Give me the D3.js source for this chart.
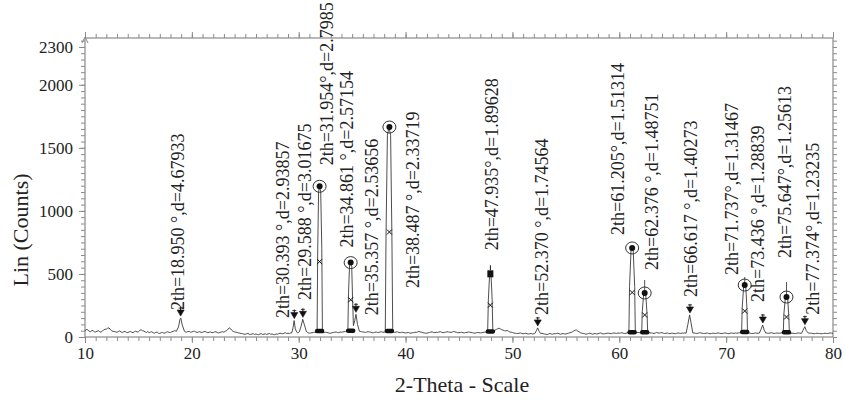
<!DOCTYPE html>
<html><head><meta charset="utf-8">
<script src="https://cdn.jsdelivr.net/npm/d3@7"></script>
<style>body{margin:0;background:#fff;}svg{display:block;}</style>
</head><body>
<script>
// ---- data ----
const xTicks = [10, 20, 30, 40, 50, 60, 70, 80];
const yTicks = [0, 500, 1000, 1500, 2000, 2300];
const bgStart = 10, bgStep = 0.25;
// background counts at 10.00, 10.25, ... 80.00
const bgCounts = [
 48,58,42,52, 40,50,38,55, 62,72,50,44, 38,48,35,45, 36,44,34,46,
 42,58,48,36, 34,42,30,40, 28,36,32,42, 36,44,48,60, 70,45,38,44,
 40,46,36,42, 38,44,34,40, 36,42,32,40, 38,50,72,52, 40,36,30,26,
 22,28,20,26, 24,18,26,22, 20,28,24,18, 22,30,26,34, 30,32,40,38,
 36,40,44,42, 30,34,38,40, 36,32,38,34, 30,36,40,34, 38,42,44,46,
 60,70,58,44, 40,36,42,38, 34,40,36,42, 38,40,42,44, 36,40,34,38,
 32,36,30,34, 36,44,38,32, 30,36,40,34, 36,42,34,38, 40,36,44,38,
 34,38,32,36, 38,34,30,36, 32,36,38,40, 40,48,60,70, 58,50,52,40,
 36,30,28,32, 26,30,24,28, 26,30,34,30, 24,20,28,22, 26,30,22,28,
 24,30,36,48, 55,40,30,26, 24,30,22,28, 26,32,24,28, 30,26,32,28,
 30,34,28,32, 34,36,38,36, 34,32,36,34, 32,28,36,30, 34,28,32,26,
 30,26,32,28, 30,34,36,34, 32,28,34,30, 28,32,26,30, 28,32,28,30,
 30,26,32,28, 30,34,36,38, 36,30,28,32, 30,32,34,32, 30,34,28,32,
 30,32,34,32, 26,30,28,32, 30,32,34,32, 30,26,30,28, 26,30,28,32,
 30];
// background counts at 10.125, 10.375, ... 79.875
const bgCountsMid = [
 60,46,50,40, 46,42,48,62, 70,58,44,40, 44,40,42,36, 40,38,42,40,
 52,50,40,44, 38,34,36,30, 34,30,38,36, 42,50,54,64, 52,40,44,38,
 44,40,40,36, 42,38,38,34, 40,36,36,42, 46,62,66,44, 38,32,28,22,
 26,22,24,20, 20,24,20,26, 24,22,20,24, 26,28,30,28, 28,36,42,34,
 38,42,40,34, 32,36,36,44, 34,36,36,30, 34,38,36,40, 40,44,42,50,
 66,64,50,42, 38,40,40,34, 38,36,40,38, 40,42,40,40, 40,36,38,34,
 34,32,34,38, 40,40,34,30, 34,40,36,38, 40,38,36,42, 38,40,40,34,
 36,34,36,40, 36,32,34,34, 34,38,40,44, 44,54,66,64, 54,48,46,38,
 32,28,30,28, 28,26,26,24, 28,32,32,26, 22,24,24,26, 28,26,26,24,
 28,34,42,54, 46,34,28,22, 28,26,26,24, 30,28,26,30, 28,30,30,32,
 32,30,30,34, 36,38,36,34, 32,34,34,32, 30,32,32,34, 30,30,28,30,
 28,30,30,32, 32,36,36,32, 30,30,32,28, 30,28,28,30, 30,30,28,32,
 28,30,30,32, 32,36,38,36, 32,28,30,30, 32,34,32,30, 32,30,30,30,
 32,34,32,28, 28,28,30,30, 32,34,32,30, 28,28,28,26, 28,28,30,30];
const peakTheta = [18.950, 29.588, 30.393, 31.954, 34.861, 35.357, 38.487, 47.935,
                   52.370, 61.205, 62.376, 66.617, 71.737, 73.436, 75.647, 77.374];
const peakLabels = [
 "2th=18.950 °,d=4.67933", "2th=29.588 °,d=3.01675", "2th=30.393 °,d=2.93857",
 "2th=31.954°,d=2.7985", "2th=34.861 °,d=2.57154", "2th=35.357 °,d=2.53656",
 "2th=38.487 °,d=2.33719", "2th=47.935°,d=1.89628", "2th=52.370 °,d=1.74564",
 "2th=61.205°,d=1.51314", "2th=62.376 °,d=1.48751", "2th=66.617 °,d=1.40273",
 "2th=71.737°,d=1.31467", "2th=73.436 °,d=1.28839", "2th=75.647°,d=1.25613",
 "2th=77.374°,d=1.23235"];
const peakProfiles = [
 [[18.55,45],[18.75,80],[18.9,145],[18.97,150],[19.1,95],[19.3,48]],
 [[29.35,32],[29.47,75],[29.57,130],[29.68,65],[29.82,38]],
 [[30.05,40],[30.22,85],[30.38,140],[30.52,100],[30.72,42]],
 [[31.72,40],[31.78,700],[31.86,1150],[31.95,1195],[32.06,1150],[32.16,700],[32.22,40]],
 [[34.6,42],[34.66,350],[34.76,570],[34.86,590],[34.96,560],[35.04,300],[35.12,90]],
 [[35.12,90],[35.24,130],[35.36,180],[35.5,100],[35.68,45]],
 [[38.1,40],[38.17,800],[38.3,1600],[38.45,1665],[38.6,1600],[38.72,800],[38.8,40]],
 [[47.68,36],[47.75,300],[47.87,505],[47.99,505],[48.1,300],[48.17,40]],
 [[52.1,28],[52.24,50],[52.36,72],[52.5,45],[52.66,26]],
 [[60.9,30],[60.96,400],[61.1,690],[61.2,706],[61.3,690],[61.44,400],[61.5,32]],
 [[62.1,30],[62.15,200],[62.28,340],[62.38,349],[62.48,330],[62.6,180],[62.66,32]],
 [[66.25,30],[66.42,100],[66.58,175],[66.72,110],[66.88,32]],
 [[71.45,32],[71.5,230],[71.64,400],[71.74,412],[71.84,395],[71.95,220],[72.0,34]],
 [[73.1,30],[73.26,60],[73.42,95],[73.56,55],[73.72,30]],
 [[75.35,30],[75.4,180],[75.54,310],[75.65,317],[75.76,305],[75.86,170],[75.92,30]],
 [[77.05,28],[77.2,55],[77.36,82],[77.5,50],[77.7,30]]
];
const peakMarker = ["tri","tri","tri","circ","circ","tri","circ","sq",
                    "tri","circ","circ","tri","circ","tri","circ","tri"];
const stickTheta = [62.376, 71.737, 75.647];
const stickTop = [452, 476, 436];

// ---- layout (label offsets in px: dx from peak, gap above peak top) ----
const labelLayout = [
 [-3,8],[10.5,20.6],[-20,1.3],[7,21],[-4,15],[16,-1],[23,-161],[1,23],
 [4,13],[-14,13],[7,23],[1,18],[-13,10],[-5,23],[-2,39],[8,12]];

// ---- build ----
const W = 845, H = 400;
const L = 85, R = 833, T = 38, B = 337;
const x = d3.scaleLinear().domain([10, 80]).range([L, R]);
const y = d3.scaleLinear().domain([0, 2371]).range([B, T]);

const ranges = peakProfiles.map(p => [p[0][0], p[p.length-1][0]]);
let pts = bgCounts.map((c, i) => [bgStart + i * bgStep, c])
  .concat(bgCountsMid.map((c, i) => [bgStart + bgStep / 2 + i * bgStep, c]))
  .filter(p => !ranges.some(r => p[0] >= r[0] - 1e-9 && p[0] <= r[1] + 1e-9));
peakProfiles.forEach(p => p.forEach(q => pts.push(q)));
pts.sort((a, b) => a[0] - b[0]);
pts = pts.filter((p, i) => i === 0 || Math.abs(p[0] - pts[i-1][0]) > 1e-9);

const svg = d3.select("body").append("svg").attr("width", W).attr("height", H)
  .style("font-family", "'Liberation Serif','Times New Roman',serif");

const axisCol = "#8a8a8a";
function styleAxis(g) {
  g.select(".domain").remove();
  g.selectAll(".tick line").attr("stroke", axisCol);
  g.selectAll(".tick text").attr("fill", "#222").style("font-size", "17px")
    .style("font-family", "'Liberation Serif','Times New Roman',serif");
}
// minor ticks
svg.append("g").attr("transform", `translate(0,${B})`)
  .call(d3.axisBottom(x).tickValues(d3.range(10, 81, 1)).tickSize(4).tickFormat(""))
  .call(styleAxis);
svg.append("g").attr("transform", `translate(0,${T})`)
  .call(d3.axisTop(x).tickValues(d3.range(10, 81, 1)).tickSize(4).tickFormat(""))
  .call(styleAxis);
svg.append("g").attr("transform", `translate(${L},0)`)
  .call(d3.axisLeft(y).tickValues(d3.range(0, 2351, 50)).tickSize(4).tickFormat(""))
  .call(styleAxis);
svg.append("g").attr("transform", `translate(${R},0)`)
  .call(d3.axisRight(y).tickValues(d3.range(0, 2351, 50)).tickSize(4).tickFormat(""))
  .call(styleAxis);
// major ticks
svg.append("g").attr("transform", `translate(0,${B})`)
  .call(d3.axisBottom(x).tickValues(xTicks).tickSize(6).tickPadding(4).tickFormat(d3.format("d")))
  .call(styleAxis);
svg.append("g").attr("transform", `translate(0,${T})`)
  .call(d3.axisTop(x).tickValues(xTicks).tickSize(6).tickFormat(""))
  .call(styleAxis);
svg.append("g").attr("transform", `translate(${L},0)`)
  .call(d3.axisLeft(y).tickValues(yTicks).tickSize(6).tickPadding(6).tickFormat(d3.format("d")))
  .call(styleAxis);

// frame
svg.append("rect").attr("x", L).attr("y", T).attr("width", R - L).attr("height", B - T)
  .attr("fill", "none").attr("stroke", axisCol).attr("stroke-width", 1.2);
// small arrow at top of y axis
svg.append("path").attr("d", `M${L-3},${T+5}L${L},${T-1}L${L+3},${T+5}`)
  .attr("fill", "none").attr("stroke", axisCol);

// profile line
svg.append("path").datum(pts)
  .attr("d", d3.line().x(d => x(d[0])).y(d => y(d[1])))
  .attr("fill", "none").attr("stroke", "#3a3a3a").attr("stroke-width", 0.9)
  .attr("stroke-linejoin", "round");

// reference sticks
svg.selectAll(".stick").data(stickTheta).join("line")
  .attr("x1", d => x(d)).attr("x2", d => x(d))
  .attr("y1", (d, i) => y(stickTop[i])).attr("y2", (d, i) => y(d3.max(peakProfiles[peakTheta.indexOf(d)], q => q[1])))
  .attr("stroke", "#555").attr("stroke-width", 1);

// markers
const mk = svg.append("g").attr("fill", "#111").attr("stroke", "#111");
peakTheta.forEach((t, i) => {
  const prof = peakProfiles[i];
  const top = d3.max(prof, q => q[1]);
  const base = Math.min(prof[0][1], prof[prof.length-1][1]);
  const px = x(t), py = y(top);
  const type = peakMarker[i];
  if (type === "tri") {
    mk.append("path").attr("d", `M${px-3.5},${py-8}L${px+3.5},${py-8}L${px},${py-2}Z`).attr("stroke-width", 0.6);
    mk.append("line").attr("x1", px).attr("x2", px).attr("y1", py - 11).attr("y2", py - 8).attr("stroke-width", 1);
    mk.append("line").attr("x1", px-2).attr("x2", px+2).attr("y1", py - 10).attr("y2", py - 10).attr("stroke-width", 0.8);
  } else {
    if (type === "circ") {
      mk.append("circle").attr("cx", px).attr("cy", py).attr("r", 3).attr("stroke", "none");
      mk.append("ellipse").attr("cx", px).attr("cy", py).attr("rx", 6.5).attr("ry", 6)
        .attr("fill", "none").attr("stroke", "#333").attr("stroke-width", 1);
    } else {
      mk.append("rect").attr("x", px - 3).attr("y", py - 3).attr("width", 6).attr("height", 7).attr("stroke", "none");
      mk.append("line").attr("x1", px).attr("x2", px).attr("y1", py - 8).attr("y2", py - 3).attr("stroke-width", 1);
    }
    const my = y(top / 2);
    mk.append("path").attr("d", `M${px-2.5},${my-2.5}L${px+2.5},${my+2.5}M${px+2.5},${my-2.5}L${px-2.5},${my+2.5}`)
      .attr("fill", "none").attr("stroke-width", 1);
    mk.append("line").attr("x1", px - 2.5).attr("x2", px + 2.5).attr("y1", y(base) - 1).attr("y2", y(base) - 1)
      .attr("stroke-width", 4.5).attr("stroke-linecap", "round");
  }
});

// labels
svg.append("g").selectAll("text").data(peakLabels).join("text")
  .attr("transform", (d, i) => {
    const top = d3.max(peakProfiles[i], q => q[1]);
    return `translate(${x(peakTheta[i]) + labelLayout[i][0]},${y(top) - labelLayout[i][1]}) rotate(-90)`;
  })
  .attr("dy", "0.35em").attr("text-anchor", "start")
  .attr("fill", "#222").style("font-size", "18px").text(d => d);

// axis titles
svg.append("text").attr("x", (L + R) / 2 + 3).attr("y", 392).attr("text-anchor", "middle")
  .attr("fill", "#222").style("font-size", "22px").text("2-Theta - Scale");
svg.append("text").attr("transform", `translate(28,230) rotate(-90)`).attr("text-anchor", "middle")
  .attr("fill", "#222").style("font-size", "22px").text("Lin (Counts)");
</script>
</body></html>
